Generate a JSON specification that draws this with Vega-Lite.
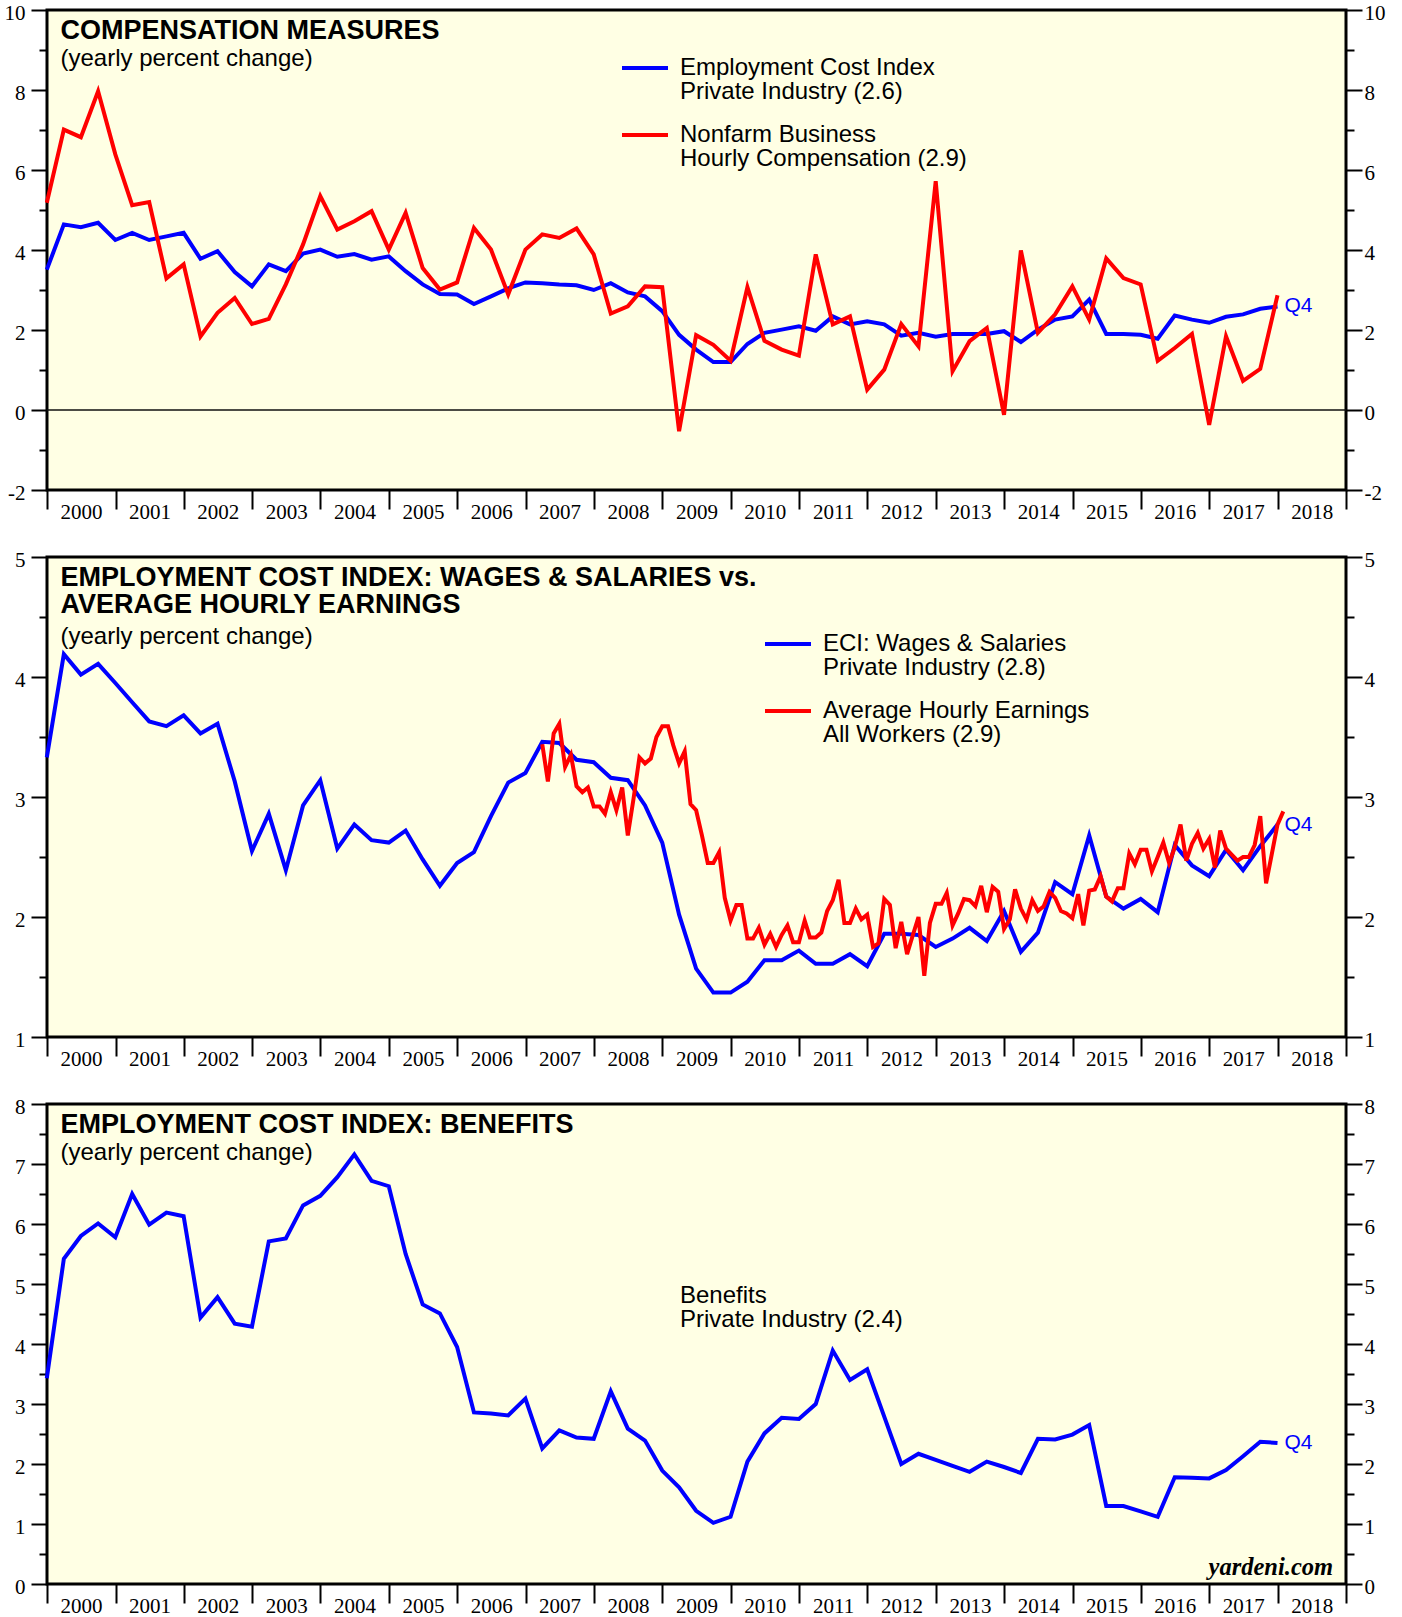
{
  "$schema": "https://vega.github.io/schema/vega-lite/v6.json",
  "background": "white",
  "padding": {"left": 2, "top": 0, "right": 0, "bottom": 0},
  "bounds": "flush",
  "spacing": 67,
  "resolve": {"scale": {"color": "independent"}, "legend": {"color": "independent"}},
  "datasets": {
    "p1": [
      {"d":"1999-12-31","s":"ECI","v":3.51},
      {"d":"2000-03-31","s":"ECI","v":4.64},{"d":"2000-06-30","s":"ECI","v":4.57},{"d":"2000-09-30","s":"ECI","v":4.68},{"d":"2000-12-31","s":"ECI","v":4.25},
      {"d":"2001-03-31","s":"ECI","v":4.43},{"d":"2001-06-30","s":"ECI","v":4.25},{"d":"2001-09-30","s":"ECI","v":4.34},{"d":"2001-12-31","s":"ECI","v":4.43},
      {"d":"2002-03-31","s":"ECI","v":3.78},{"d":"2002-06-30","s":"ECI","v":3.97},{"d":"2002-09-30","s":"ECI","v":3.45},{"d":"2002-12-31","s":"ECI","v":3.09},
      {"d":"2003-03-31","s":"ECI","v":3.64},{"d":"2003-06-30","s":"ECI","v":3.47},{"d":"2003-09-30","s":"ECI","v":3.91},{"d":"2003-12-31","s":"ECI","v":4.01},
      {"d":"2004-03-31","s":"ECI","v":3.83},{"d":"2004-06-30","s":"ECI","v":3.90},{"d":"2004-09-30","s":"ECI","v":3.76},{"d":"2004-12-31","s":"ECI","v":3.84},
      {"d":"2005-03-31","s":"ECI","v":3.47},{"d":"2005-06-30","s":"ECI","v":3.14},{"d":"2005-09-30","s":"ECI","v":2.90},{"d":"2005-12-31","s":"ECI","v":2.89},
      {"d":"2006-03-31","s":"ECI","v":2.65},{"d":"2006-06-30","s":"ECI","v":2.84},{"d":"2006-09-30","s":"ECI","v":3.04},{"d":"2006-12-31","s":"ECI","v":3.19},
      {"d":"2007-03-31","s":"ECI","v":3.17},{"d":"2007-06-30","s":"ECI","v":3.14},{"d":"2007-09-30","s":"ECI","v":3.12},{"d":"2007-12-31","s":"ECI","v":3.00},
      {"d":"2008-03-31","s":"ECI","v":3.17},{"d":"2008-06-30","s":"ECI","v":2.94},{"d":"2008-09-30","s":"ECI","v":2.84},{"d":"2008-12-31","s":"ECI","v":2.47},
      {"d":"2009-03-31","s":"ECI","v":1.88},{"d":"2009-06-30","s":"ECI","v":1.51},{"d":"2009-09-30","s":"ECI","v":1.20},{"d":"2009-12-31","s":"ECI","v":1.20},
      {"d":"2010-03-31","s":"ECI","v":1.65},{"d":"2010-06-30","s":"ECI","v":1.93},{"d":"2010-09-30","s":"ECI","v":2.01},{"d":"2010-12-31","s":"ECI","v":2.09},
      {"d":"2011-03-31","s":"ECI","v":1.98},{"d":"2011-06-30","s":"ECI","v":2.34},{"d":"2011-09-30","s":"ECI","v":2.14},{"d":"2011-12-31","s":"ECI","v":2.22},
      {"d":"2012-03-31","s":"ECI","v":2.14},{"d":"2012-06-30","s":"ECI","v":1.86},{"d":"2012-09-30","s":"ECI","v":1.93},{"d":"2012-12-31","s":"ECI","v":1.83},
      {"d":"2013-03-31","s":"ECI","v":1.90},{"d":"2013-06-30","s":"ECI","v":1.90},{"d":"2013-09-30","s":"ECI","v":1.90},{"d":"2013-12-31","s":"ECI","v":1.97},
      {"d":"2014-03-31","s":"ECI","v":1.70},{"d":"2014-06-30","s":"ECI","v":2.01},{"d":"2014-09-30","s":"ECI","v":2.26},{"d":"2014-12-31","s":"ECI","v":2.34},
      {"d":"2015-03-31","s":"ECI","v":2.76},{"d":"2015-06-30","s":"ECI","v":1.90},{"d":"2015-09-30","s":"ECI","v":1.90},{"d":"2015-12-31","s":"ECI","v":1.88},
      {"d":"2016-03-31","s":"ECI","v":1.78},{"d":"2016-06-30","s":"ECI","v":2.36},{"d":"2016-09-30","s":"ECI","v":2.26},{"d":"2016-12-31","s":"ECI","v":2.18},
      {"d":"2017-03-31","s":"ECI","v":2.33},{"d":"2017-06-30","s":"ECI","v":2.39},{"d":"2017-09-30","s":"ECI","v":2.53},{"d":"2017-12-31","s":"ECI","v":2.59},
      {"d":"1999-12-31","s":"NFB","v":5.18},
      {"d":"2000-03-31","s":"NFB","v":7.01},{"d":"2000-06-30","s":"NFB","v":6.82},{"d":"2000-09-30","s":"NFB","v":7.97},{"d":"2000-12-31","s":"NFB","v":6.39},
      {"d":"2001-03-31","s":"NFB","v":5.12},{"d":"2001-06-30","s":"NFB","v":5.20},{"d":"2001-09-30","s":"NFB","v":3.29},{"d":"2001-12-31","s":"NFB","v":3.64},
      {"d":"2002-03-31","s":"NFB","v":1.84},{"d":"2002-06-30","s":"NFB","v":2.43},{"d":"2002-09-30","s":"NFB","v":2.80},{"d":"2002-12-31","s":"NFB","v":2.15},
      {"d":"2003-03-31","s":"NFB","v":2.28},{"d":"2003-06-30","s":"NFB","v":3.14},{"d":"2003-09-30","s":"NFB","v":4.14},{"d":"2003-12-31","s":"NFB","v":5.35},
      {"d":"2004-03-31","s":"NFB","v":4.51},{"d":"2004-06-30","s":"NFB","v":4.72},{"d":"2004-09-30","s":"NFB","v":4.97},{"d":"2004-12-31","s":"NFB","v":4.01},
      {"d":"2005-03-31","s":"NFB","v":4.93},{"d":"2005-06-30","s":"NFB","v":3.55},{"d":"2005-09-30","s":"NFB","v":3.01},{"d":"2005-12-31","s":"NFB","v":3.19},
      {"d":"2006-03-31","s":"NFB","v":4.55},{"d":"2006-06-30","s":"NFB","v":4.01},{"d":"2006-09-30","s":"NFB","v":2.89},{"d":"2006-12-31","s":"NFB","v":4.01},
      {"d":"2007-03-31","s":"NFB","v":4.39},{"d":"2007-06-30","s":"NFB","v":4.30},{"d":"2007-09-30","s":"NFB","v":4.54},{"d":"2007-12-31","s":"NFB","v":3.89},
      {"d":"2008-03-31","s":"NFB","v":2.41},{"d":"2008-06-30","s":"NFB","v":2.59},{"d":"2008-09-30","s":"NFB","v":3.09},{"d":"2008-12-31","s":"NFB","v":3.07},
      {"d":"2009-03-31","s":"NFB","v":-0.53},{"d":"2009-06-30","s":"NFB","v":1.87},{"d":"2009-09-30","s":"NFB","v":1.63},{"d":"2009-12-31","s":"NFB","v":1.23},
      {"d":"2010-03-31","s":"NFB","v":3.07},{"d":"2010-06-30","s":"NFB","v":1.73},{"d":"2010-09-30","s":"NFB","v":1.51},{"d":"2010-12-31","s":"NFB","v":1.36},
      {"d":"2011-03-31","s":"NFB","v":3.89},{"d":"2011-06-30","s":"NFB","v":2.14},{"d":"2011-09-30","s":"NFB","v":2.34},{"d":"2011-12-31","s":"NFB","v":0.51},
      {"d":"2012-03-31","s":"NFB","v":1.01},{"d":"2012-06-30","s":"NFB","v":2.15},{"d":"2012-09-30","s":"NFB","v":1.59},{"d":"2012-12-31","s":"NFB","v":5.72},
      {"d":"2013-03-31","s":"NFB","v":0.97},{"d":"2013-06-30","s":"NFB","v":1.72},{"d":"2013-09-30","s":"NFB","v":2.05},{"d":"2013-12-31","s":"NFB","v":-0.12},
      {"d":"2014-03-31","s":"NFB","v":3.99},{"d":"2014-06-30","s":"NFB","v":1.93},{"d":"2014-09-30","s":"NFB","v":2.39},{"d":"2014-12-31","s":"NFB","v":3.09},
      {"d":"2015-03-31","s":"NFB","v":2.26},{"d":"2015-06-30","s":"NFB","v":3.79},{"d":"2015-09-30","s":"NFB","v":3.30},{"d":"2015-12-31","s":"NFB","v":3.14},
      {"d":"2016-03-31","s":"NFB","v":1.23},{"d":"2016-06-30","s":"NFB","v":1.55},{"d":"2016-09-30","s":"NFB","v":1.90},{"d":"2016-12-31","s":"NFB","v":-0.37},
      {"d":"2017-03-31","s":"NFB","v":1.84},{"d":"2017-06-30","s":"NFB","v":0.73},{"d":"2017-09-30","s":"NFB","v":1.03},{"d":"2017-12-31","s":"NFB","v":2.87}
    ],
    "p2": [
      {"d":"1999-12-31","s":"ECI","v":3.33},
      {"d":"2000-03-31","s":"ECI","v":4.19},{"d":"2000-06-30","s":"ECI","v":4.02},{"d":"2000-09-30","s":"ECI","v":4.11},{"d":"2000-12-31","s":"ECI","v":3.95},
      {"d":"2001-03-31","s":"ECI","v":3.79},{"d":"2001-06-30","s":"ECI","v":3.63},{"d":"2001-09-30","s":"ECI","v":3.59},{"d":"2001-12-31","s":"ECI","v":3.68},
      {"d":"2002-03-31","s":"ECI","v":3.53},{"d":"2002-06-30","s":"ECI","v":3.61},{"d":"2002-09-30","s":"ECI","v":3.13},{"d":"2002-12-31","s":"ECI","v":2.55},
      {"d":"2003-03-31","s":"ECI","v":2.86},{"d":"2003-06-30","s":"ECI","v":2.39},{"d":"2003-09-30","s":"ECI","v":2.93},{"d":"2003-12-31","s":"ECI","v":3.14},
      {"d":"2004-03-31","s":"ECI","v":2.57},{"d":"2004-06-30","s":"ECI","v":2.77},{"d":"2004-09-30","s":"ECI","v":2.64},{"d":"2004-12-31","s":"ECI","v":2.62},
      {"d":"2005-03-31","s":"ECI","v":2.72},{"d":"2005-06-30","s":"ECI","v":2.48},{"d":"2005-09-30","s":"ECI","v":2.26},{"d":"2005-12-31","s":"ECI","v":2.45},
      {"d":"2006-03-31","s":"ECI","v":2.54},{"d":"2006-06-30","s":"ECI","v":2.84},{"d":"2006-09-30","s":"ECI","v":3.12},{"d":"2006-12-31","s":"ECI","v":3.20},
      {"d":"2007-03-31","s":"ECI","v":3.46},{"d":"2007-06-30","s":"ECI","v":3.45},{"d":"2007-09-30","s":"ECI","v":3.31},{"d":"2007-12-31","s":"ECI","v":3.29},
      {"d":"2008-03-31","s":"ECI","v":3.16},{"d":"2008-06-30","s":"ECI","v":3.14},{"d":"2008-09-30","s":"ECI","v":2.93},{"d":"2008-12-31","s":"ECI","v":2.62},
      {"d":"2009-03-31","s":"ECI","v":2.02},{"d":"2009-06-30","s":"ECI","v":1.57},{"d":"2009-09-30","s":"ECI","v":1.37},{"d":"2009-12-31","s":"ECI","v":1.37},
      {"d":"2010-03-31","s":"ECI","v":1.46},{"d":"2010-06-30","s":"ECI","v":1.64},{"d":"2010-09-30","s":"ECI","v":1.64},{"d":"2010-12-31","s":"ECI","v":1.72},
      {"d":"2011-03-31","s":"ECI","v":1.61},{"d":"2011-06-30","s":"ECI","v":1.61},{"d":"2011-09-30","s":"ECI","v":1.69},{"d":"2011-12-31","s":"ECI","v":1.59},
      {"d":"2012-03-31","s":"ECI","v":1.86},{"d":"2012-06-30","s":"ECI","v":1.86},{"d":"2012-09-30","s":"ECI","v":1.85},{"d":"2012-12-31","s":"ECI","v":1.75},
      {"d":"2013-03-31","s":"ECI","v":1.82},{"d":"2013-06-30","s":"ECI","v":1.91},{"d":"2013-09-30","s":"ECI","v":1.80},{"d":"2013-12-31","s":"ECI","v":2.05},
      {"d":"2014-03-31","s":"ECI","v":1.71},{"d":"2014-06-30","s":"ECI","v":1.87},{"d":"2014-09-30","s":"ECI","v":2.29},{"d":"2014-12-31","s":"ECI","v":2.19},
      {"d":"2015-03-31","s":"ECI","v":2.68},{"d":"2015-06-30","s":"ECI","v":2.17},{"d":"2015-09-30","s":"ECI","v":2.07},{"d":"2015-12-31","s":"ECI","v":2.15},
      {"d":"2016-03-31","s":"ECI","v":2.04},{"d":"2016-06-30","s":"ECI","v":2.60},{"d":"2016-09-30","s":"ECI","v":2.43},{"d":"2016-12-31","s":"ECI","v":2.34},
      {"d":"2017-03-31","s":"ECI","v":2.56},{"d":"2017-06-30","s":"ECI","v":2.39},{"d":"2017-09-30","s":"ECI","v":2.59},{"d":"2017-12-31","s":"ECI","v":2.77},
      {"d":"2007-03-31","s":"AHE","v":3.44},{"d":"2007-04-30","s":"AHE","v":3.13},{"d":"2007-05-31","s":"AHE","v":3.53},{"d":"2007-06-30","s":"AHE","v":3.61},
      {"d":"2007-07-31","s":"AHE","v":3.25},{"d":"2007-08-31","s":"AHE","v":3.35},{"d":"2007-09-30","s":"AHE","v":3.09},{"d":"2007-10-31","s":"AHE","v":3.04},
      {"d":"2007-11-30","s":"AHE","v":3.08},{"d":"2007-12-31","s":"AHE","v":2.92},
      {"d":"2008-01-31","s":"AHE","v":2.92},{"d":"2008-02-29","s":"AHE","v":2.86},{"d":"2008-03-31","s":"AHE","v":3.04},{"d":"2008-04-30","s":"AHE","v":2.89},
      {"d":"2008-05-31","s":"AHE","v":3.08},{"d":"2008-06-30","s":"AHE","v":2.68},{"d":"2008-07-31","s":"AHE","v":2.99},{"d":"2008-08-31","s":"AHE","v":3.33},
      {"d":"2008-09-30","s":"AHE","v":3.28},{"d":"2008-10-31","s":"AHE","v":3.32},{"d":"2008-11-30","s":"AHE","v":3.50},{"d":"2008-12-31","s":"AHE","v":3.59},
      {"d":"2009-01-31","s":"AHE","v":3.59},{"d":"2009-02-28","s":"AHE","v":3.43},{"d":"2009-03-31","s":"AHE","v":3.28},{"d":"2009-04-30","s":"AHE","v":3.38},
      {"d":"2009-05-31","s":"AHE","v":2.94},{"d":"2009-06-30","s":"AHE","v":2.89},{"d":"2009-07-31","s":"AHE","v":2.68},{"d":"2009-08-31","s":"AHE","v":2.45},
      {"d":"2009-09-30","s":"AHE","v":2.45},{"d":"2009-10-31","s":"AHE","v":2.54},{"d":"2009-11-30","s":"AHE","v":2.16},{"d":"2009-12-31","s":"AHE","v":1.97},
      {"d":"2010-01-31","s":"AHE","v":2.10},{"d":"2010-02-28","s":"AHE","v":2.10},{"d":"2010-03-31","s":"AHE","v":1.82},{"d":"2010-04-30","s":"AHE","v":1.82},
      {"d":"2010-05-31","s":"AHE","v":1.91},{"d":"2010-06-30","s":"AHE","v":1.77},{"d":"2010-07-31","s":"AHE","v":1.86},{"d":"2010-08-31","s":"AHE","v":1.75},
      {"d":"2010-09-30","s":"AHE","v":1.85},{"d":"2010-10-31","s":"AHE","v":1.93},{"d":"2010-11-30","s":"AHE","v":1.79},{"d":"2010-12-31","s":"AHE","v":1.79},
      {"d":"2011-01-31","s":"AHE","v":1.97},{"d":"2011-02-28","s":"AHE","v":1.83},{"d":"2011-03-31","s":"AHE","v":1.83},{"d":"2011-04-30","s":"AHE","v":1.87},
      {"d":"2011-05-31","s":"AHE","v":2.05},{"d":"2011-06-30","s":"AHE","v":2.14},{"d":"2011-07-31","s":"AHE","v":2.31},{"d":"2011-08-31","s":"AHE","v":1.95},
      {"d":"2011-09-30","s":"AHE","v":1.95},{"d":"2011-10-31","s":"AHE","v":2.07},{"d":"2011-11-30","s":"AHE","v":1.98},{"d":"2011-12-31","s":"AHE","v":2.02},
      {"d":"2012-01-31","s":"AHE","v":1.75},{"d":"2012-02-29","s":"AHE","v":1.78},{"d":"2012-03-31","s":"AHE","v":2.15},{"d":"2012-04-30","s":"AHE","v":2.10},
      {"d":"2012-05-31","s":"AHE","v":1.74},{"d":"2012-06-30","s":"AHE","v":1.96},{"d":"2012-07-31","s":"AHE","v":1.69},{"d":"2012-08-31","s":"AHE","v":1.85},
      {"d":"2012-09-30","s":"AHE","v":2.00},{"d":"2012-10-31","s":"AHE","v":1.51},{"d":"2012-11-30","s":"AHE","v":1.95},{"d":"2012-12-31","s":"AHE","v":2.11},
      {"d":"2013-01-31","s":"AHE","v":2.11},{"d":"2013-02-28","s":"AHE","v":2.20},{"d":"2013-03-31","s":"AHE","v":1.93},{"d":"2013-04-30","s":"AHE","v":2.03},
      {"d":"2013-05-31","s":"AHE","v":2.15},{"d":"2013-06-30","s":"AHE","v":2.14},{"d":"2013-07-31","s":"AHE","v":2.09},{"d":"2013-08-31","s":"AHE","v":2.26},
      {"d":"2013-09-30","s":"AHE","v":2.04},{"d":"2013-10-31","s":"AHE","v":2.25},{"d":"2013-11-30","s":"AHE","v":2.21},{"d":"2013-12-31","s":"AHE","v":1.90},
      {"d":"2014-01-31","s":"AHE","v":1.98},{"d":"2014-02-28","s":"AHE","v":2.23},{"d":"2014-03-31","s":"AHE","v":2.07},{"d":"2014-04-30","s":"AHE","v":1.98},
      {"d":"2014-05-31","s":"AHE","v":2.14},{"d":"2014-06-30","s":"AHE","v":2.05},{"d":"2014-07-31","s":"AHE","v":2.09},{"d":"2014-08-31","s":"AHE","v":2.21},
      {"d":"2014-09-30","s":"AHE","v":2.16},{"d":"2014-10-31","s":"AHE","v":2.05},{"d":"2014-11-30","s":"AHE","v":2.03},{"d":"2014-12-31","s":"AHE","v":1.99},
      {"d":"2015-01-31","s":"AHE","v":2.19},{"d":"2015-02-28","s":"AHE","v":1.93},{"d":"2015-03-31","s":"AHE","v":2.22},{"d":"2015-04-30","s":"AHE","v":2.23},
      {"d":"2015-05-31","s":"AHE","v":2.34},{"d":"2015-06-30","s":"AHE","v":2.17},{"d":"2015-07-31","s":"AHE","v":2.13},{"d":"2015-08-31","s":"AHE","v":2.24},
      {"d":"2015-09-30","s":"AHE","v":2.24},{"d":"2015-10-31","s":"AHE","v":2.53},{"d":"2015-11-30","s":"AHE","v":2.44},{"d":"2015-12-31","s":"AHE","v":2.56},
      {"d":"2016-01-31","s":"AHE","v":2.56},{"d":"2016-02-29","s":"AHE","v":2.38},{"d":"2016-03-31","s":"AHE","v":2.50},{"d":"2016-04-30","s":"AHE","v":2.62},
      {"d":"2016-05-31","s":"AHE","v":2.45},{"d":"2016-06-30","s":"AHE","v":2.58},{"d":"2016-07-31","s":"AHE","v":2.77},{"d":"2016-08-31","s":"AHE","v":2.47},
      {"d":"2016-09-30","s":"AHE","v":2.61},{"d":"2016-10-31","s":"AHE","v":2.70},{"d":"2016-11-30","s":"AHE","v":2.57},{"d":"2016-12-31","s":"AHE","v":2.65},
      {"d":"2017-01-31","s":"AHE","v":2.41},{"d":"2017-02-28","s":"AHE","v":2.72},{"d":"2017-03-31","s":"AHE","v":2.57},{"d":"2017-04-30","s":"AHE","v":2.52},
      {"d":"2017-05-31","s":"AHE","v":2.47},{"d":"2017-06-30","s":"AHE","v":2.50},{"d":"2017-07-31","s":"AHE","v":2.50},{"d":"2017-08-31","s":"AHE","v":2.60},
      {"d":"2017-09-30","s":"AHE","v":2.84},{"d":"2017-10-31","s":"AHE","v":2.28},{"d":"2017-11-30","s":"AHE","v":2.52},{"d":"2017-12-31","s":"AHE","v":2.77},
      {"d":"2018-01-31","s":"AHE","v":2.88}
    ],
    "p3": [
      {"d":"1999-12-31","s":"BEN","v":3.43},
      {"d":"2000-03-31","s":"BEN","v":5.42},{"d":"2000-06-30","s":"BEN","v":5.80},{"d":"2000-09-30","s":"BEN","v":6.01},{"d":"2000-12-31","s":"BEN","v":5.78},
      {"d":"2001-03-31","s":"BEN","v":6.50},{"d":"2001-06-30","s":"BEN","v":5.99},{"d":"2001-09-30","s":"BEN","v":6.19},{"d":"2001-12-31","s":"BEN","v":6.13},
      {"d":"2002-03-31","s":"BEN","v":4.44},{"d":"2002-06-30","s":"BEN","v":4.78},{"d":"2002-09-30","s":"BEN","v":4.34},{"d":"2002-12-31","s":"BEN","v":4.29},
      {"d":"2003-03-31","s":"BEN","v":5.71},{"d":"2003-06-30","s":"BEN","v":5.76},{"d":"2003-09-30","s":"BEN","v":6.31},{"d":"2003-12-31","s":"BEN","v":6.47},
      {"d":"2004-03-31","s":"BEN","v":6.78},{"d":"2004-06-30","s":"BEN","v":7.16},{"d":"2004-09-30","s":"BEN","v":6.72},{"d":"2004-12-31","s":"BEN","v":6.63},
      {"d":"2005-03-31","s":"BEN","v":5.50},{"d":"2005-06-30","s":"BEN","v":4.66},{"d":"2005-09-30","s":"BEN","v":4.51},{"d":"2005-12-31","s":"BEN","v":3.95},
      {"d":"2006-03-31","s":"BEN","v":2.86},{"d":"2006-06-30","s":"BEN","v":2.84},{"d":"2006-09-30","s":"BEN","v":2.81},{"d":"2006-12-31","s":"BEN","v":3.09},
      {"d":"2007-03-31","s":"BEN","v":2.26},{"d":"2007-06-30","s":"BEN","v":2.56},{"d":"2007-09-30","s":"BEN","v":2.44},{"d":"2007-12-31","s":"BEN","v":2.42},
      {"d":"2008-03-31","s":"BEN","v":3.21},{"d":"2008-06-30","s":"BEN","v":2.59},{"d":"2008-09-30","s":"BEN","v":2.39},{"d":"2008-12-31","s":"BEN","v":1.89},
      {"d":"2009-03-31","s":"BEN","v":1.61},{"d":"2009-06-30","s":"BEN","v":1.22},{"d":"2009-09-30","s":"BEN","v":1.02},{"d":"2009-12-31","s":"BEN","v":1.12},
      {"d":"2010-03-31","s":"BEN","v":2.04},{"d":"2010-06-30","s":"BEN","v":2.51},{"d":"2010-09-30","s":"BEN","v":2.77},{"d":"2010-12-31","s":"BEN","v":2.75},
      {"d":"2011-03-31","s":"BEN","v":3.00},{"d":"2011-06-30","s":"BEN","v":3.89},{"d":"2011-09-30","s":"BEN","v":3.40},{"d":"2011-12-31","s":"BEN","v":3.58},
      {"d":"2012-03-31","s":"BEN","v":2.79},{"d":"2012-06-30","s":"BEN","v":2.00},{"d":"2012-09-30","s":"BEN","v":2.17},{"d":"2012-12-31","s":"BEN","v":2.07},
      {"d":"2013-03-31","s":"BEN","v":1.97},{"d":"2013-06-30","s":"BEN","v":1.87},{"d":"2013-09-30","s":"BEN","v":2.04},{"d":"2013-12-31","s":"BEN","v":1.95},
      {"d":"2014-03-31","s":"BEN","v":1.85},{"d":"2014-06-30","s":"BEN","v":2.42},{"d":"2014-09-30","s":"BEN","v":2.41},{"d":"2014-12-31","s":"BEN","v":2.49},
      {"d":"2015-03-31","s":"BEN","v":2.65},{"d":"2015-06-30","s":"BEN","v":1.30},{"d":"2015-09-30","s":"BEN","v":1.30},{"d":"2015-12-31","s":"BEN","v":1.21},
      {"d":"2016-03-31","s":"BEN","v":1.12},{"d":"2016-06-30","s":"BEN","v":1.78},{"d":"2016-09-30","s":"BEN","v":1.77},{"d":"2016-12-31","s":"BEN","v":1.76},
      {"d":"2017-03-31","s":"BEN","v":1.90},{"d":"2017-06-30","s":"BEN","v":2.13},{"d":"2017-09-30","s":"BEN","v":2.37},{"d":"2017-12-31","s":"BEN","v":2.35}
    ]
  },
  "vconcat": [
    {
      "width": 1299, "height": 480,
      "title": {"text": "COMPENSATION MEASURES", "subtitle": "(yearly percent change)", "offset": -70},
      "data": {"name": "p1"},
      "resolve": {"axis": {"y": "independent"}},
      "layer": [
        {
          "data": {"values": [{}]},
          "mark": {"type": "rule", "color": "#111111", "strokeWidth": 1.5},
          "encoding": {
            "y": {"datum": 0, "type": "quantitative", "scale": {"domain": [-2, 10], "nice": false, "zero": false},
              "axis": {"orient": "right", "title": null, "values": [-2,-1,0,1,2,3,4,5,6,7,8,9,10], "tickSize": 16, "labelPadding": 2, "labelOffset": 3, "labelFont": "Liberation Serif", "labelFontSize": 21, "labelFlush": false, "labelOverlap": false, "labelBound": false, "labelBaseline": "middle",
                "labelExpr": "datum.value % 2 == 0 ? '' + datum.value : ''",
                "tickDash": {"condition": {"test": "datum.value % 2 != 0", "value": [8, 40]}, "value": [40, 0]}}}
          }
        },
        {
          "transform": [{"filter": "datum.s == 'ECI'"}],
          "mark": {"type": "line", "strokeWidth": 4},
          "encoding": {
            "x": {"field": "d", "type": "temporal", "scale": {"domain": [{"year": 2000, "month": 1, "date": 1}, {"year": 2019, "month": 1, "date": 1}]},
              "axis": {"orient": "bottom", "title": null, "format": "%Y",
                "values": [{"year":2000,"month":1,"date":1},{"year":2001,"month":1,"date":1},{"year":2002,"month":1,"date":1},{"year":2003,"month":1,"date":1},{"year":2004,"month":1,"date":1},{"year":2005,"month":1,"date":1},{"year":2006,"month":1,"date":1},{"year":2007,"month":1,"date":1},{"year":2008,"month":1,"date":1},{"year":2009,"month":1,"date":1},{"year":2010,"month":1,"date":1},{"year":2011,"month":1,"date":1},{"year":2012,"month":1,"date":1},{"year":2013,"month":1,"date":1},{"year":2014,"month":1,"date":1},{"year":2015,"month":1,"date":1},{"year":2016,"month":1,"date":1},{"year":2017,"month":1,"date":1},{"year":2018,"month":1,"date":1},{"year":2019,"month":1,"date":1}],
                "tickSize": 19, "tickWidth": 2, "tickColor": "black", "labelOffset": 34, "labelPadding": -8, "labelFont": "Liberation Serif", "labelFontSize": 21, "labelColor": "black", "labelFlush": false, "labelOverlap": false, "labelBound": false, "labelAlign": "center", "labelBaseline": "top", "labelExpr": "year(datum.value) < 2019 ? datum.label : ''"}},
            "y": {"field": "v", "type": "quantitative", "scale": {"domain": [-2, 10], "nice": false, "zero": false},
              "axis": {"orient": "left", "title": null, "values": [-2,-1,0,1,2,3,4,5,6,7,8,9,10], "tickSize": 16, "labelPadding": 6, "labelOffset": 3, "labelFont": "Liberation Serif", "labelFontSize": 21, "labelFlush": false, "labelOverlap": false, "labelBound": false, "labelBaseline": "middle",
                "labelExpr": "datum.value % 2 == 0 ? '' + datum.value : ''",
                "tickDash": {"condition": {"test": "datum.value % 2 != 0", "value": [8, 40]}, "value": [40, 0]}}},
            "color": {"field": "s", "type": "nominal", "scale": {"domain": ["ECI", "NFB"], "range": ["#0000FF", "#FF0000"]},
              "legend": {"title": null, "legendX": 573, "legendY": 33,
                "labelExpr": "datum.label == 'ECI' ? ['Employment Cost Index', 'Private Industry (2.6)'] : ['Nonfarm Business', 'Hourly Compensation (2.9)']",
                "encode": {"labels": {"update": {"lineHeight": {"value": 24}}}}}}
          }
        },
        {
          "transform": [{"filter": "datum.s == 'NFB'"}],
          "mark": {"type": "line", "strokeWidth": 4},
          "encoding": {
            "x": {"field": "d", "type": "temporal", "scale": {"domain": [{"year": 2000, "month": 1, "date": 1}, {"year": 2019, "month": 1, "date": 1}]}},
            "y": {"field": "v", "type": "quantitative", "scale": {"domain": [-2, 10], "nice": false, "zero": false}, "axis": null},
            "color": {"field": "s", "type": "nominal", "scale": {"domain": ["ECI", "NFB"], "range": ["#0000FF", "#FF0000"]},
              "legend": {"title": null, "legendX": 573, "legendY": 33,
                "labelExpr": "datum.label == 'ECI' ? ['Employment Cost Index', 'Private Industry (2.6)'] : ['Nonfarm Business', 'Hourly Compensation (2.9)']",
                "encode": {"labels": {"update": {"lineHeight": {"value": 24}}}}}}
          }
        },
        {
          "transform": [{"filter": "datum.s == 'ECI' && toDate(datum.d) > datetime(2017, 11, 15)"}],
          "mark": {"type": "text", "font": "Liberation Sans", "fontSize": 21, "color": "#0000FF", "align": "left", "baseline": "middle", "dx": 7},
          "encoding": {
            "x": {"field": "d", "type": "temporal", "scale": {"domain": [{"year": 2000, "month": 1, "date": 1}, {"year": 2019, "month": 1, "date": 1}]}},
            "y": {"field": "v", "type": "quantitative", "scale": {"domain": [-2, 10], "nice": false, "zero": false}, "axis": null},
            "text": {"value": "Q4"}
          }
        }
      ]
    },
    {
      "width": 1299, "height": 480,
      "title": {"text": ["EMPLOYMENT COST INDEX: WAGES & SALARIES vs.", "AVERAGE HOURLY EARNINGS"], "subtitle": "(yearly percent change)", "offset": -101, "subtitlePadding": 6},
      "data": {"name": "p2"},
      "resolve": {"axis": {"y": "independent"}},
      "layer": [
        {
          "transform": [{"filter": "datum.s == 'ECI'"}],
          "mark": {"type": "line", "strokeWidth": 4},
          "encoding": {
            "x": {"field": "d", "type": "temporal", "scale": {"domain": [{"year": 2000, "month": 1, "date": 1}, {"year": 2019, "month": 1, "date": 1}]},
              "axis": {"orient": "bottom", "title": null, "format": "%Y",
                "values": [{"year":2000,"month":1,"date":1},{"year":2001,"month":1,"date":1},{"year":2002,"month":1,"date":1},{"year":2003,"month":1,"date":1},{"year":2004,"month":1,"date":1},{"year":2005,"month":1,"date":1},{"year":2006,"month":1,"date":1},{"year":2007,"month":1,"date":1},{"year":2008,"month":1,"date":1},{"year":2009,"month":1,"date":1},{"year":2010,"month":1,"date":1},{"year":2011,"month":1,"date":1},{"year":2012,"month":1,"date":1},{"year":2013,"month":1,"date":1},{"year":2014,"month":1,"date":1},{"year":2015,"month":1,"date":1},{"year":2016,"month":1,"date":1},{"year":2017,"month":1,"date":1},{"year":2018,"month":1,"date":1},{"year":2019,"month":1,"date":1}],
                "tickSize": 19, "tickWidth": 2, "tickColor": "black", "labelOffset": 34, "labelPadding": -8, "labelFont": "Liberation Serif", "labelFontSize": 21, "labelColor": "black", "labelFlush": false, "labelOverlap": false, "labelBound": false, "labelAlign": "center", "labelBaseline": "top", "labelExpr": "year(datum.value) < 2019 ? datum.label : ''"}},
            "y": {"field": "v", "type": "quantitative", "scale": {"domain": [1, 5], "nice": false, "zero": false},
              "axis": {"orient": "left", "title": null, "values": [1,1.5,2,2.5,3,3.5,4,4.5,5], "tickSize": 16, "labelPadding": 6, "labelOffset": 3, "labelFont": "Liberation Serif", "labelFontSize": 21, "labelFlush": false, "labelOverlap": false, "labelBound": false, "labelBaseline": "middle",
                "labelExpr": "datum.value % 1 == 0 ? '' + datum.value : ''",
                "tickDash": {"condition": {"test": "datum.value % 1 != 0", "value": [8, 40]}, "value": [40, 0]}}},
            "color": {"field": "s", "type": "nominal", "scale": {"domain": ["ECI", "AHE"], "range": ["#0000FF", "#FF0000"]},
              "legend": {"title": null, "legendX": 716, "legendY": 62,
                "labelExpr": "datum.label == 'ECI' ? ['ECI: Wages & Salaries', 'Private Industry (2.8)'] : ['Average Hourly Earnings', 'All Workers (2.9)']",
                "encode": {"labels": {"update": {"lineHeight": {"value": 24}}}}}}
          }
        },
        {
          "transform": [{"filter": "datum.s == 'AHE'"}],
          "mark": {"type": "line", "strokeWidth": 4},
          "encoding": {
            "x": {"field": "d", "type": "temporal", "scale": {"domain": [{"year": 2000, "month": 1, "date": 1}, {"year": 2019, "month": 1, "date": 1}]}},
            "y": {"field": "v", "type": "quantitative", "scale": {"domain": [1, 5], "nice": false, "zero": false}, "axis": null},
            "color": {"field": "s", "type": "nominal", "scale": {"domain": ["ECI", "AHE"], "range": ["#0000FF", "#FF0000"]},
              "legend": {"title": null, "legendX": 716, "legendY": 62,
                "labelExpr": "datum.label == 'ECI' ? ['ECI: Wages & Salaries', 'Private Industry (2.8)'] : ['Average Hourly Earnings', 'All Workers (2.9)']",
                "encode": {"labels": {"update": {"lineHeight": {"value": 24}}}}}}
          }
        },
        {
          "transform": [{"filter": "datum.s == 'ECI' && toDate(datum.d) > datetime(2017, 11, 15)"}],
          "mark": {"type": "text", "font": "Liberation Sans", "fontSize": 21, "color": "#0000FF", "align": "left", "baseline": "middle", "dx": 7},
          "encoding": {
            "x": {"field": "d", "type": "temporal", "scale": {"domain": [{"year": 2000, "month": 1, "date": 1}, {"year": 2019, "month": 1, "date": 1}]}},
            "y": {"field": "v", "type": "quantitative", "scale": {"domain": [1, 5], "nice": false, "zero": false},
              "axis": {"orient": "right", "title": null, "values": [1,1.5,2,2.5,3,3.5,4,4.5,5], "tickSize": 16, "labelPadding": 2, "labelOffset": 3, "labelFont": "Liberation Serif", "labelFontSize": 21, "labelFlush": false, "labelOverlap": false, "labelBound": false, "labelBaseline": "middle",
                "labelExpr": "datum.value % 1 == 0 ? '' + datum.value : ''",
                "tickDash": {"condition": {"test": "datum.value % 1 != 0", "value": [8, 40]}, "value": [40, 0]}}},
            "text": {"value": "Q4"}
          }
        }
      ]
    },
    {
      "width": 1299, "height": 480,
      "title": {"text": "EMPLOYMENT COST INDEX: BENEFITS", "subtitle": "(yearly percent change)", "offset": -70},
      "data": {"name": "p3"},
      "resolve": {"axis": {"y": "independent"}},
      "layer": [
        {
          "mark": {"type": "line", "strokeWidth": 4},
          "encoding": {
            "x": {"field": "d", "type": "temporal", "scale": {"domain": [{"year": 2000, "month": 1, "date": 1}, {"year": 2019, "month": 1, "date": 1}]},
              "axis": {"orient": "bottom", "title": null, "format": "%Y",
                "values": [{"year":2000,"month":1,"date":1},{"year":2001,"month":1,"date":1},{"year":2002,"month":1,"date":1},{"year":2003,"month":1,"date":1},{"year":2004,"month":1,"date":1},{"year":2005,"month":1,"date":1},{"year":2006,"month":1,"date":1},{"year":2007,"month":1,"date":1},{"year":2008,"month":1,"date":1},{"year":2009,"month":1,"date":1},{"year":2010,"month":1,"date":1},{"year":2011,"month":1,"date":1},{"year":2012,"month":1,"date":1},{"year":2013,"month":1,"date":1},{"year":2014,"month":1,"date":1},{"year":2015,"month":1,"date":1},{"year":2016,"month":1,"date":1},{"year":2017,"month":1,"date":1},{"year":2018,"month":1,"date":1},{"year":2019,"month":1,"date":1}],
                "tickSize": 19, "tickWidth": 2, "tickColor": "black", "labelOffset": 34, "labelPadding": -8, "labelFont": "Liberation Serif", "labelFontSize": 21, "labelColor": "black", "labelFlush": false, "labelOverlap": false, "labelBound": false, "labelAlign": "center", "labelBaseline": "top", "labelExpr": "year(datum.value) < 2019 ? datum.label : ''"}},
            "y": {"field": "v", "type": "quantitative", "scale": {"domain": [0, 8], "nice": false, "zero": false},
              "axis": {"orient": "left", "title": null, "values": [0,0.5,1,1.5,2,2.5,3,3.5,4,4.5,5,5.5,6,6.5,7,7.5,8], "tickSize": 16, "labelPadding": 6, "labelOffset": 3, "labelFont": "Liberation Serif", "labelFontSize": 21, "labelFlush": false, "labelOverlap": false, "labelBound": false, "labelBaseline": "middle",
                "labelExpr": "datum.value % 1 == 0 ? '' + datum.value : ''",
                "tickDash": {"condition": {"test": "datum.value % 1 != 0", "value": [8, 40]}, "value": [40, 0]}}},
            "color": {"field": "s", "type": "nominal", "scale": {"domain": ["BEN"], "range": ["#0000FF"]},
              "legend": {"title": null, "legendX": 573, "legendY": 167, "symbolOpacity": 0,
                "labelExpr": "['Benefits', 'Private Industry (2.4)']",
                "encode": {"labels": {"update": {"lineHeight": {"value": 24}}}}}}
          }
        },
        {
          "transform": [{"filter": "toDate(datum.d) > datetime(2017, 11, 15)"}],
          "mark": {"type": "text", "font": "Liberation Sans", "fontSize": 21, "color": "#0000FF", "align": "left", "baseline": "middle", "dx": 7},
          "encoding": {
            "x": {"field": "d", "type": "temporal", "scale": {"domain": [{"year": 2000, "month": 1, "date": 1}, {"year": 2019, "month": 1, "date": 1}]}},
            "y": {"field": "v", "type": "quantitative", "scale": {"domain": [0, 8], "nice": false, "zero": false},
              "axis": {"orient": "right", "title": null, "values": [0,0.5,1,1.5,2,2.5,3,3.5,4,4.5,5,5.5,6,6.5,7,7.5,8], "tickSize": 16, "labelPadding": 2, "labelOffset": 3, "labelFont": "Liberation Serif", "labelFontSize": 21, "labelFlush": false, "labelOverlap": false, "labelBound": false, "labelBaseline": "middle",
                "labelExpr": "datum.value % 1 == 0 ? '' + datum.value : ''",
                "tickDash": {"condition": {"test": "datum.value % 1 != 0", "value": [8, 40]}, "value": [40, 0]}}},
            "text": {"value": "Q4"}
          }
        },
        {
          "data": {"values": [{}]},
          "mark": {"type": "text", "font": "Liberation Serif", "fontSize": 24.5, "fontStyle": "italic", "fontWeight": "bold", "color": "black", "align": "right", "baseline": "middle"},
          "encoding": {
            "x": {"datum": {"year": 2018, "month": 10, "date": 24}, "type": "temporal"},
            "y": {"datum": 0.27, "type": "quantitative", "axis": null},
            "text": {"value": "yardeni.com"}
          }
        }
      ]
    }
  ],
  "config": {
    "view": {"stroke": "black", "strokeWidth": 3, "fill": "#FFFFE4"},
    "axis": {"domain": false, "grid": false, "labelFont": "Liberation Serif", "labelFontSize": 21, "labelColor": "black", "tickColor": "black", "tickWidth": 2},
    "legend": {"orient": "none", "padding": 0, "symbolType": "stroke", "symbolSize": 2116, "symbolStrokeWidth": 4, "labelFont": "Liberation Sans", "labelFontSize": 24, "labelColor": "black", "labelLimit": 0, "labelOffset": 10, "labelBaseline": "middle", "rowPadding": 6},
    "title": {"anchor": "start", "frame": "group", "orient": "top", "dx": 13.5, "font": "Liberation Sans", "fontSize": 27, "fontWeight": "bold", "color": "black", "lineHeight": 27, "limit": 0, "subtitleFont": "Liberation Sans", "subtitleFontSize": 24, "subtitleColor": "black", "subtitlePadding": 2, "subtitleLineHeight": 24}
  }
}
